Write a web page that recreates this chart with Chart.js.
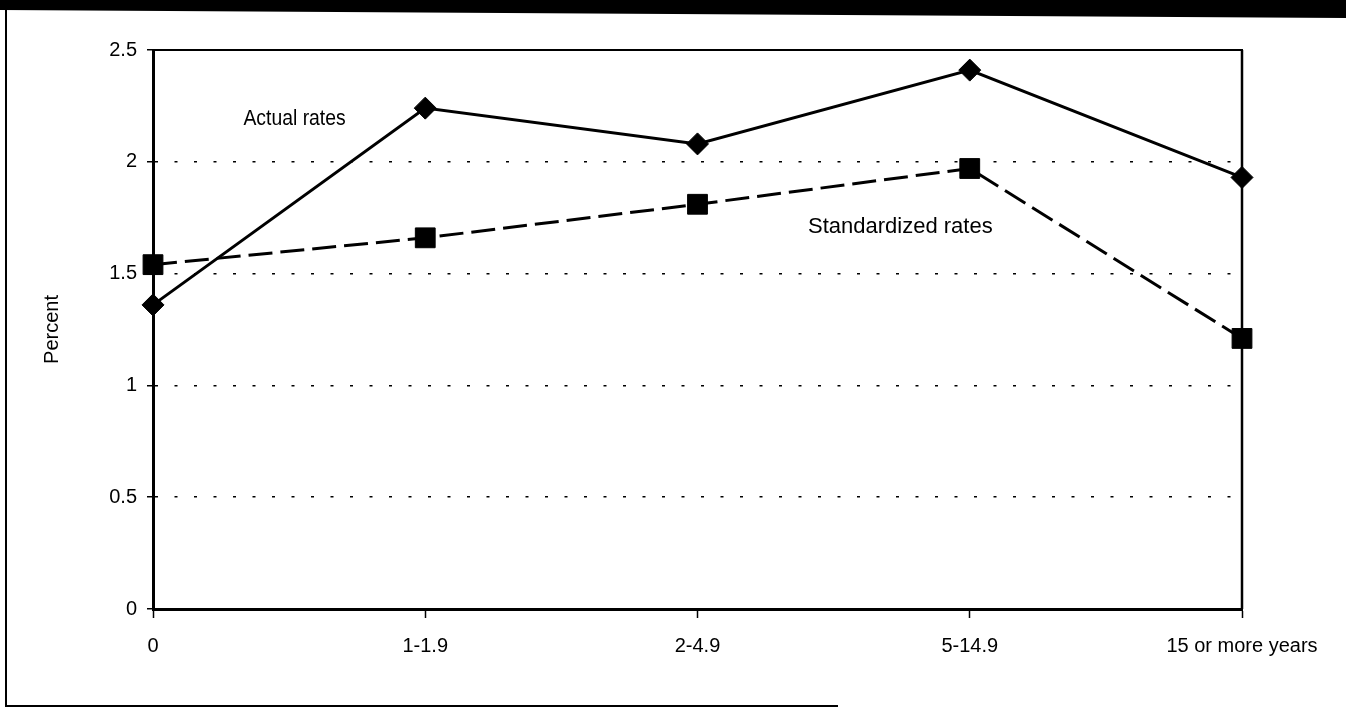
<!DOCTYPE html>
<html>
<head>
<meta charset="utf-8">
<script src="https://cdn.jsdelivr.net/npm/chart.js@4/dist/chart.umd.min.js"></script>
<style>
  html, body { margin: 0; padding: 0; background: #fff; overflow: hidden; }
  canvas { display: block; }
</style>
</head>
<body>
<canvas id="chart" width="1346" height="709"></canvas>
<script>
// Rates by years since last move
const categories = ['0', '1-1.9', '2-4.9', '5-14.9', '15 or more years'];
const actualRates = [1.36, 2.24, 2.08, 2.41, 1.93];
const standardizedRates = [1.54, 1.66, 1.81, 1.97, 1.21];
const yTicks = [0, 0.5, 1, 1.5, 2, 2.5];
const yTitle = 'Percent';

// In-plot series labels, placed in data units (category index, percent)
const seriesNotes = [
  { text: 'Actual rates', index: 0.52, value: 2.19, squeeze: 0.88 },
  { text: 'Standardized rates', index: 2.745, value: 1.71, squeeze: 1 }
];

const FONT = "'Liberation Sans', Arial, sans-serif";

// Page furniture: header band, outer box, closing the plot frame, series labels
const decorations = {
  id: 'decorations',
  beforeDraw(chart) {
    const ctx = chart.ctx;
    ctx.save();
    ctx.fillStyle = '#fff';
    ctx.fillRect(0, 0, chart.width, chart.height);
    ctx.restore();
  },
  afterDraw(chart) {
    const ctx = chart.ctx;
    const a = chart.chartArea;
    ctx.save();
    // header band
    ctx.fillStyle = '#000';
    ctx.beginPath();
    ctx.moveTo(0, 0);
    ctx.lineTo(chart.width, 0);
    ctx.lineTo(chart.width, 18);
    ctx.lineTo(0, 10);
    ctx.closePath();
    ctx.fill();
    // outer box (left + bottom)
    ctx.strokeStyle = '#000';
    ctx.lineWidth = 2;
    ctx.beginPath();
    ctx.moveTo(6, 10);
    ctx.lineTo(6, 706);
    ctx.lineTo(838, 706);
    ctx.stroke();
    // top and right edges of the plot frame
    ctx.lineWidth = 2;
    ctx.beginPath();
    ctx.moveTo(a.left, a.top);
    ctx.lineTo(a.right + 1, a.top);
    ctx.stroke();
    ctx.lineWidth = 2.5;
    ctx.beginPath();
    ctx.moveTo(a.right, a.top);
    ctx.lineTo(a.right, a.bottom);
    ctx.stroke();
    // series labels
    ctx.fillStyle = '#000';
    ctx.textAlign = 'center';
    ctx.textBaseline = 'middle';
    ctx.font = '22px ' + FONT;
    const xs = chart.scales.x, ys = chart.scales.y;
    seriesNotes.forEach(n => {
      ctx.save();
      ctx.translate(xs.getPixelForValue(n.index), ys.getPixelForValue(n.value));
      ctx.scale(n.squeeze, 1);
      ctx.fillText(n.text, 0, 0);
      ctx.restore();
    });
    ctx.restore();
  }
};

new Chart(document.getElementById('chart'), {
  type: 'line',
  data: {
    labels: categories,
    datasets: [
      {
        label: 'Actual rates',
        data: actualRates,
        borderColor: '#000',
        backgroundColor: '#000',
        borderWidth: 3,
        pointStyle: 'rectRot',
        pointRadius: 11,
        pointBorderWidth: 1,
        tension: 0,
        fill: false
      },
      {
        label: 'Standardized rates',
        data: standardizedRates,
        borderColor: '#000',
        backgroundColor: '#000',
        borderWidth: 3,
        borderDash: [24, 8],
        pointStyle: 'rect',
        pointRadius: 14,
        pointBorderWidth: 1,
        tension: 0,
        fill: false
      }
    ]
  },
  options: {
    responsive: false,
    animation: false,
    devicePixelRatio: 1,
    layout: { padding: { top: 50, right: 104, left: 0, bottom: 0 } },
    plugins: {
      legend: { display: false },
      tooltip: { enabled: false }
    },
    scales: {
      x: {
        type: 'category',
        offset: false,
        afterFit(scale) { scale.height = 100; },
        border: { display: true, color: '#000', width: 3 },
        grid: {
          drawOnChartArea: false,
          drawTicks: true,
          tickLength: 9,
          tickColor: '#000',
          tickWidth: 1.5
        },
        ticks: {
          autoSkip: false,
          maxRotation: 0,
          minRotation: 0,
          padding: 16,
          color: '#000',
          font: { family: FONT, size: 20 }
        }
      },
      y: {
        min: 0,
        max: 2.5,
        afterBuildTicks(scale) { scale.ticks = yTicks.map(v => ({ value: v })); },
        afterFit(scale) { scale.width = 153; },
        // in Chart.js v4 the grid-line dash pattern lives under border.dash
        border: { display: true, color: '#000', width: 3, dash: [3, 16.5] },
        grid: {
          color: ctx => (ctx.tick && (ctx.tick.value === 0 || ctx.tick.value === 2.5)) ? 'rgba(0,0,0,0)' : '#000',
          lineWidth: 1.5,
          drawTicks: true,
          tickLength: 6,
          tickColor: '#000',
          tickWidth: 1.5,
          tickBorderDash: []
        },
        ticks: {
          padding: 10,
          color: '#000',
          font: { family: FONT, size: 20 },
          callback: v => String(v)
        },
        title: {
          display: true,
          text: yTitle,
          color: '#000',
          font: { family: FONT, size: 20 },
          padding: { top: 40, bottom: 0 }
        }
      }
    }
  },
  plugins: [decorations]
});
</script>
</body>
</html>
